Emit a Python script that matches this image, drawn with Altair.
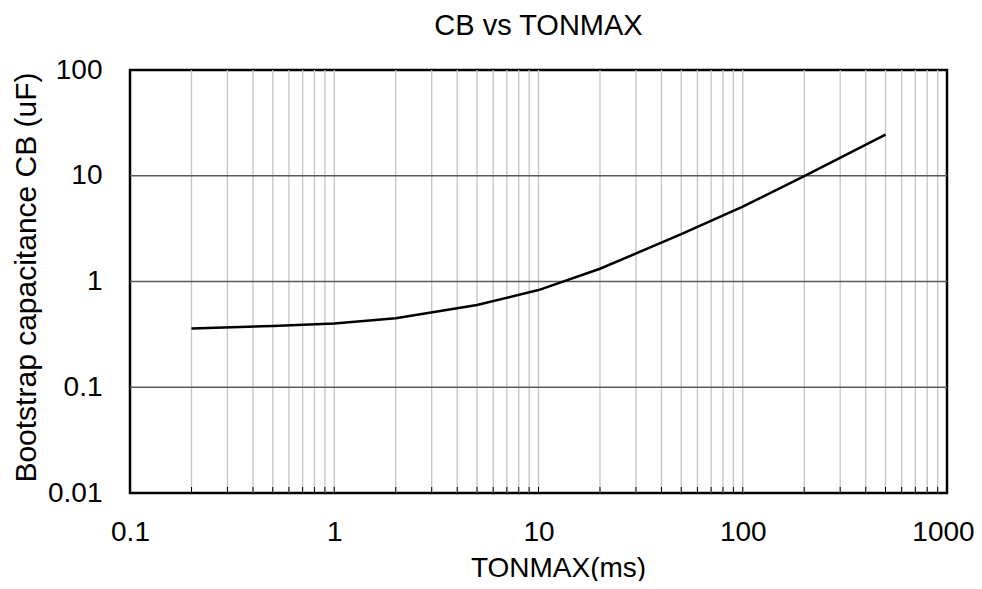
import altair as alt
import pandas as pd

# Data
ton_ms = [0.2, 0.5, 1, 2, 5, 10, 20, 50, 100, 200, 500]
cb_uf = [0.36, 0.38, 0.40, 0.45, 0.60, 0.83, 1.32, 2.8, 5.1, 9.9, 24.5]

x_major = [0.1, 1, 10, 100, 1000]
y_major = [0.01, 0.1, 1, 10, 100]
x_grid = [m * d for d in [0.1, 1, 10, 100] for m in range(1, 10)][1:]
y_grid = [0.1, 1, 10]

df = pd.DataFrame({"ton": ton_ms, "cb": cb_uf})
xg_df = pd.DataFrame({"ton": x_grid})
yg_df = pd.DataFrame({"cb": y_grid})

W, H = 817, 423
FONT = "Liberation Sans"
FS = 28
XT = "TONMAX(ms)"
YT = "Bootstrap capacitance CB (uF)"

xscale = alt.Scale(type="log", domain=[0.1, 1000], nice=False)
yscale = alt.Scale(type="log", domain=[0.01, 100], nice=False)

x_axis = alt.Axis(values=x_major, format="~g",
                  grid=False, ticks=False, domain=False,
                  labelFont=FONT, labelFontSize=FS, labelColor="black",
                  labelPadding=25, labelFlush=False,
                  labelOffset={"expr": "datum.value >= 999 ? -4 : 0"},
                  titleFont=FONT, titleFontSize=28,
                  titleFontWeight="normal", titleColor="black",
                  titleX=428, titleY=83, titleAlign="center", titleBaseline="alphabetic")
y_axis = alt.Axis(values=y_major, format="~g",
                  grid=False, ticks=False, domain=False,
                  labelFont=FONT, labelFontSize=FS, labelColor="black",
                  labelPadding=28, labelFlush=False,
                  titleFont=FONT, titleFontSize=30, titleFontWeight="normal",
                  titleColor="black", titlePadding=6, titleY=207)

vgrid = alt.Chart(xg_df).mark_rule(color="#c4c4c4", strokeWidth=1.3).encode(
    x=alt.X("ton:Q", scale=xscale, title=XT, axis=x_axis),
    y=alt.value(0),
    y2=alt.value(H),
)

ticks = alt.Chart(xg_df).mark_rule(color="black", strokeWidth=1).encode(
    x=alt.X("ton:Q", scale=xscale, title=XT, axis=x_axis),
    y=alt.value(H - 6),
    y2=alt.value(H),
)

hgrid = alt.Chart(yg_df).mark_rule(color="#5a5a5a", strokeWidth=1.6).encode(
    y=alt.Y("cb:Q", scale=yscale, title=YT, axis=y_axis),
    x=alt.value(0),
    x2=alt.value(W),
)

line = alt.Chart(df).mark_line(color="black", strokeWidth=2.5, clip=True).encode(
    x=alt.X("ton:Q", scale=xscale, title=XT, axis=x_axis),
    y=alt.Y("cb:Q", scale=yscale, title=YT, axis=y_axis),
)

chart = alt.layer(vgrid, ticks, hgrid, line).properties(
    width=W, height=H,
    background="white",
    title=alt.TitleParams("CB vs TONMAX", font=FONT, fontSize=29, fontWeight="normal",
                          color="black", offset=15, anchor="middle"),
    autosize=alt.AutoSizeParams(type="none"),
    padding={"left": 122, "top": 62, "right": 27, "bottom": 88},
).configure_view(stroke="black", strokeWidth=2.5)

chart.save("out.html", embed_options={"renderer": "svg", "actions": False})
